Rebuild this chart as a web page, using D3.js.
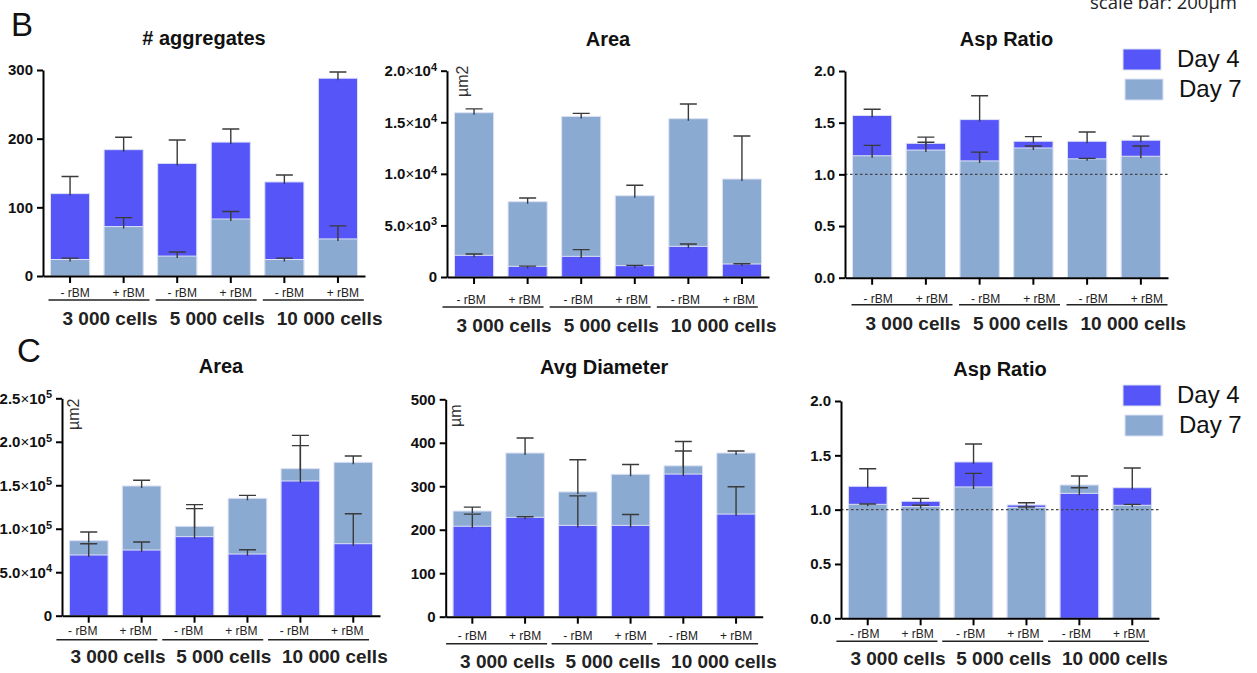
<!DOCTYPE html>
<html>
<head>
<meta charset="utf-8">
<script src="https://cdn.jsdelivr.net/npm/d3@7"></script>
<style>
body { margin: 0; background: #fff; }
svg { display: block; font-family: "Liberation Sans", Arial, sans-serif; }
</style>
</head>
<body>
<svg width="1257" height="673"></svg>
<script>
// categories
var conditions = ['- rBM', '+ rBM', '- rBM', '+ rBM', '- rBM', '+ rBM'];
var cellGroups = ['3 000 cells', '5 000 cells', '10 000 cells'];
var seriesNames = ['Day 4', 'Day 7'];

// B: # aggregates
var aggDay4 = [120, 184, 164, 195, 137, 288];
var aggDay4Err = [25, 18, 34, 19, 10, 9];
var aggDay7 = [24, 72, 29, 83, 24, 54];
var aggDay7Err = [2, 13, 6, 11, 2, 19];
var aggTicks = [0, 100, 200, 300];

// B: Area
var areaBDay4 = [2100, 1030, 2000, 1100, 2970, 1260];
var areaBDay4Err = [130, 20, 650, 30, 230, 30];
var areaBDay7 = [15930, 7300, 15570, 7880, 15350, 9500];
var areaBDay7Err = [370, 360, 290, 1010, 1420, 4170];
var areaBTicks = [0, 5000, 10000, 15000, 20000];

// B: Asp Ratio
var aspBDay4 = [1.57, 1.30, 1.53, 1.32, 1.32, 1.33];
var aspBDay4Err = [0.06, 0.06, 0.23, 0.045, 0.09, 0.04];
var aspBDay7 = [1.18, 1.235, 1.13, 1.255, 1.15, 1.175];
var aspBDay7Err = [0.10, 0.075, 0.085, 0.02, 0.005, 0.10];
var ratioTicks = [0, 0.5, 1.0, 1.5, 2.0];

// C: Area
var areaCDay4 = [69800, 75500, 90900, 70900, 154900, 82800];
var areaCDay4Err = [13000, 9200, 32200, 5000, 52500, 34500];
var areaCDay7 = [86300, 149200, 102800, 135000, 169100, 176400];
var areaCDay7Err = [9900, 6500, 24900, 3400, 26500, 7300];
var areaCTicks = [0, 50000, 100000, 150000, 200000, 250000];

// C: Avg Diameter
var diamDay4 = [208, 228.5, 210, 210, 328, 236];
var diamDay4Err = [28, 1.5, 68, 25, 53, 63];
var diamDay7 = [243, 376.5, 287, 327.5, 347, 376.5];
var diamDay7Err = [9, 34.5, 74, 22.5, 56, 4.5];
var diamTicks = [0, 100, 200, 300, 400, 500];

// C: Asp Ratio
var aspCDay4 = [1.215, 1.077, 1.439, 1.043, 1.150, 1.202];
var aspCDay4Err = [0.162, 0.027, 0.165, 0.021, 0.052, 0.181];
var aspCDay7 = [1.049, 1.028, 1.209, 1.021, 1.227, 1.04];
var aspCDay7Err = [0.003, 0.012, 0.125, 0.004, 0.083, 0.009];

var colors = ['#5656f8', '#8baad2'];

var panels = [
    {title: '# aggregates', d4: aggDay4, e4: aggDay4Err, d7: aggDay7, e7: aggDay7Err, ticks: aggTicks, fmt: 'int',
     left: 43, right: 365, top: 70, bottom: 276, catDy: 21, lineDy: 24, groupDy: 49, catShift: 5, lineShift: -2},
    {title: 'Area', d4: areaBDay4, e4: areaBDay4Err, d7: areaBDay7, e7: areaBDay7Err, ticks: areaBTicks, fmt: 'sci',
     left: 447, right: 769, top: 70.7, bottom: 277, catDy: 27, lineDy: 30, groupDy: 55, catShift: -3, lineShift: -12,
     unit: 'µm2', unitX: 468, unitY: 97},
    {title: 'Asp Ratio', d4: aspBDay4, e4: aspBDay4Err, d7: aspBDay7, e7: aspBDay7Err, ticks: ratioTicks, fmt: 'dec',
     left: 845, right: 1168, top: 71, bottom: 277.7, catDy: 25, lineDy: 27, groupDy: 52, catShift: 6, lineShift: -1,
     refLine: 1, legendY: 49},
    {title: 'Area', d4: areaCDay4, e4: areaCDay4Err, d7: areaCDay7, e7: areaCDay7Err, ticks: areaCTicks, fmt: 'sci',
     left: 62, right: 380, top: 398.3, bottom: 615.7, catDy: 19, lineDy: 24, groupDy: 47, catShift: -6, lineShift: -13,
     unit: 'µm2', unitX: 79, unitY: 430},
    {title: 'Avg Diameter', d4: diamDay4, e4: diamDay4Err, d7: diamDay7, e7: diamDay7Err, ticks: diamTicks, fmt: 'int',
     left: 445.7, right: 762.7, top: 399.3, bottom: 616.7, catDy: 23, lineDy: 27, groupDy: 51, catShift: 0, lineShift: -7,
     unit: 'µm', unitX: 461, unitY: 427},
    {title: 'Asp Ratio', d4: aspCDay4, e4: aspCDay4Err, d7: aspCDay7, e7: aspCDay7Err, ticks: ratioTicks, fmt: 'dec',
     left: 841, right: 1159, top: 401, bottom: 618.3, catDy: 20, lineDy: 23, groupDy: 47, catShift: -3, lineShift: -12,
     refLine: 1, legendY: 385}
];

var svg = d3.select('svg');

// panel letters and the caption cut by the top edge
svg.append('text').attr('x', 11).attr('y', 36).attr('font-size', 33).attr('fill', '#111').text('B');
svg.append('text').attr('x', 17).attr('y', 362).attr('font-size', 33).attr('fill', '#111').text('C');
svg.append('text').attr('x', 1090).attr('y', 9).attr('font-family', '"Open Sans", sans-serif')
   .attr('font-size', 18.5).attr('fill', '#222').text('scale bar: 200µm');

panels.forEach(drawPanel);

function sciLabels(sel) {
    sel.each(function (d) {
        var t = d3.select(this).text('');
        if (d === 0) { t.text('0'); return; }
        var e = Math.floor(Math.log10(d) + 1e-9), m = d / Math.pow(10, e);
        t.append('tspan').text(m.toFixed(1));
        t.append('tspan').attr('font-weight', 'normal').text('×');
        t.append('tspan').text('10');
        t.append('tspan').attr('dy', '-0.5em').attr('font-size', 11).text(e);
    });
}

function drawPanel(p) {
    var g = svg.append('g');
    var ymax = p.ticks[p.ticks.length - 1];
    var y = d3.scaleLinear().domain([0, ymax]).range([p.bottom, p.top]);
    var x = d3.scaleBand().domain(d3.range(conditions.length)).range([p.left, p.right])
              .paddingInner(0.27).paddingOuter(0.14);
    var bw = x.bandwidth();

    // bars: taller one behind, shorter one in front
    var bars = [];
    conditions.forEach(function (c, i) {
        var pair = [{i: i, s: 0, v: p.d4[i]}, {i: i, s: 1, v: p.d7[i]}];
        pair.sort(function (a, b) { return b.v - a.v; });
        bars = bars.concat(pair);
    });
    g.selectAll('rect.bar').data(bars).enter().append('rect')
        .attr('x', function (d) { return x(d.i); })
        .attr('y', function (d) { return y(d.v); })
        .attr('width', bw)
        .attr('height', function (d) { return y(0) - y(d.v); })
        .attr('fill', function (d) { return colors[d.s]; })
        .attr('stroke', '#dde2f4').attr('stroke-width', 1);

    // error bars (upper only)
    var errs = [];
    conditions.forEach(function (c, i) {
        errs.push({i: i, v: p.d4[i], e: p.e4[i]});
        errs.push({i: i, v: p.d7[i], e: p.e7[i]});
    });
    g.selectAll('path.err').data(errs).enter().append('path')
        .attr('d', function (d) {
            var cx = x(d.i) + bw / 2, yt = y(d.v + d.e), yb = y(d.v) + 2;
            return 'M' + cx + ',' + yb + 'V' + yt + 'M' + (cx - 8.5) + ',' + yt + 'H' + (cx + 8.5);
        })
        .attr('fill', 'none').attr('stroke', '#3a3a3a').attr('stroke-width', 1.4);

    if (p.refLine !== undefined) {
        g.append('line').attr('x1', p.left).attr('x2', p.right)
            .attr('y1', y(p.refLine)).attr('y2', y(p.refLine))
            .attr('stroke', '#444').attr('stroke-width', 1.4).attr('stroke-dasharray', '2.5,2.5');
    }

    // axes
    var fmt = p.fmt === 'dec' ? d3.format('.1f') : d3.format('d');
    var ya = g.append('g').attr('transform', 'translate(' + p.left + ',0)')
        .call(d3.axisLeft(y).tickValues(p.ticks).tickSize(6).tickPadding(4).tickSizeOuter(0).tickFormat(fmt));
    ya.selectAll('path,line').attr('stroke', '#000').attr('stroke-width', 2);
    ya.selectAll('text').attr('font-size', 15).attr('font-weight', 'bold')
        .attr('font-family', '"Liberation Sans", Arial, sans-serif').attr('fill', '#111');
    if (p.fmt === 'sci') ya.selectAll('.tick text').call(sciLabels);

    var xa = g.append('g').attr('transform', 'translate(0,' + p.bottom + ')')
        .call(d3.axisBottom(x).tickSize(7).tickSizeOuter(0).tickFormat(''));
    xa.selectAll('path,line').attr('stroke', '#000').attr('stroke-width', 2);

    // category labels
    g.selectAll('text.cat').data(conditions).enter().append('text')
        .attr('x', function (d, i) { return x(i) + bw / 2 + p.catShift; })
        .attr('y', p.bottom + p.catDy)
        .attr('text-anchor', 'middle').attr('font-size', 12).attr('fill', '#222')
        .text(function (d) { return d; });

    // group underline + label
    cellGroups.forEach(function (name, k) {
        var x0 = x(2 * k) + p.lineShift, x1 = x0 + 101;
        g.append('line').attr('x1', x0).attr('x2', x1)
            .attr('y1', p.bottom + p.lineDy).attr('y2', p.bottom + p.lineDy)
            .attr('stroke', '#222').attr('stroke-width', 1.5);
        g.append('text').attr('x', x0 + 14).attr('y', p.bottom + p.groupDy)
            .attr('font-size', 19).attr('font-weight', 'bold').attr('fill', '#222').text(name);
    });

    // title
    g.append('text').attr('x', (p.left + p.right) / 2).attr('y', p.top - 25)
        .attr('text-anchor', 'middle').attr('font-size', 20).attr('font-weight', 'bold').attr('fill', '#111')
        .text(p.title);

    if (p.unit) {
        g.append('text').attr('transform', 'translate(' + p.unitX + ',' + p.unitY + ') rotate(-90)')
            .attr('font-size', 16).attr('fill', '#333').text(p.unit);
    }

    if (p.legendY !== undefined) {
        seriesNames.forEach(function (name, s) {
            var ly = p.legendY + s * 30;
            g.append('rect').attr('x', 1123 + s * 2).attr('y', ly).attr('width', 38).attr('height', 21)
                .attr('fill', colors[s]).attr('stroke', '#dde2f4').attr('stroke-width', 1);
            g.append('text').attr('x', 1177 + s * 2).attr('y', ly + 18).attr('font-size', 24)
                .attr('fill', '#111').text(name);
        });
    }
}
</script>
</body>
</html>
